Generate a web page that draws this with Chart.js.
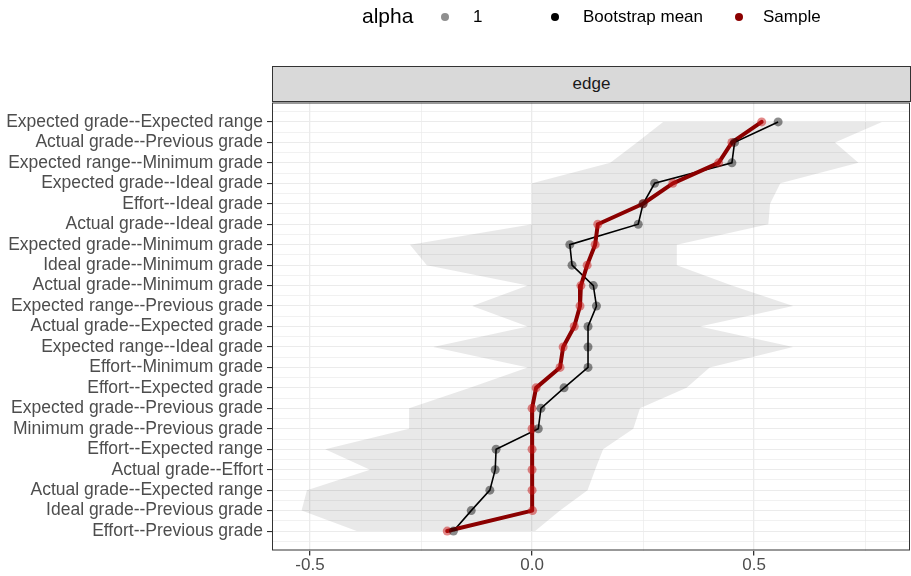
<!DOCTYPE html>
<html>
<head>
<meta charset="utf-8">
<script src="https://cdn.jsdelivr.net/npm/chart.js@4"></script>
<style>
  body { margin: 0; background: #fff; font-family: "Liberation Sans", Arial, sans-serif; }
  #wrap { position: relative; width: 911px; height: 576px; }
  #chart { position: absolute; left: 0; top: 0; }
  .lg { position: absolute; color: #000; white-space: nowrap; }
  .dot { position: absolute; width: 8px; height: 8px; border-radius: 50%; }
  #strip { position: absolute; left: 272px; top: 66px; width: 639px; height: 36px; box-sizing: border-box;
           background: #d9d9d9; border: 1px solid #333; color: #1a1a1a; font-size: 17px;
           text-align: center; line-height: 34px; }
</style>
</head>
<body>
<div id="wrap">
  <canvas id="chart" width="911" height="576"></canvas>
  <!-- legend, gg-style -->
  <span class="lg" style="left:362px; top:4px; font-size:21px;">alpha</span>
  <span class="dot" style="left:441px; top:13px; background:#8f8f8f;"></span>
  <span class="lg" style="left:473px; top:7px; font-size:17px;">1</span>
  <span class="dot" style="left:551px; top:13px; background:#000;"></span>
  <span class="lg" style="left:583px; top:7px; font-size:17px;">Bootstrap mean</span>
  <span class="dot" style="left:735px; top:13px; background:#8b0000;"></span>
  <span class="lg" style="left:763px; top:7px; font-size:17px;">Sample</span>
  <div id="strip">edge</div>
</div>
<script>
// kategori (dari atas ke bawah)
const categories = [
  'Expected grade--Expected range', 'Actual grade--Previous grade', 'Expected range--Minimum grade',
  'Expected grade--Ideal grade', 'Effort--Ideal grade', 'Actual grade--Ideal grade',
  'Expected grade--Minimum grade', 'Ideal grade--Minimum grade', 'Actual grade--Minimum grade',
  'Expected range--Previous grade', 'Actual grade--Expected grade', 'Expected range--Ideal grade',
  'Effort--Minimum grade', 'Effort--Expected grade', 'Expected grade--Previous grade',
  'Minimum grade--Previous grade', 'Effort--Expected range', 'Actual grade--Effort',
  'Actual grade--Expected range', 'Ideal grade--Previous grade', 'Effort--Previous grade'
];
const sampleValues = [0.517, 0.450, 0.420, 0.317, 0.250, 0.148, 0.142, 0.124, 0.110, 0.108, 0.095,
                      0.070, 0.063, 0.009, 0.0, 0.0, 0.0, 0.0, 0.0, 0.001, -0.191];
const bootstrapMean = [0.554, 0.456, 0.450, 0.276, 0.250, 0.239, 0.085, 0.090, 0.138, 0.145, 0.126,
                       0.126, 0.126, 0.072, 0.020, 0.014, -0.081, -0.083, -0.095, -0.137, -0.177];
// pita interval bootstrap
const bandLower = [0.295, 0.236, 0.176, 0.0, 0.0, 0.0, -0.275, -0.237, -0.01, -0.135, -0.01,
                   -0.223, -0.01, -0.14, -0.277, -0.277, -0.466, -0.365, -0.507, -0.519, -0.395];
const bandUpper = [0.788, 0.682, 0.735, 0.559, 0.536, 0.532, 0.326, 0.326, 0.45, 0.588, 0.378,
                   0.588, 0.40, 0.348, 0.243, 0.228, 0.16, 0.142, 0.125, 0.063, 0.007];
const xMajorTicks = [-0.5, 0, 0.5];
const xTickLabels = ['-0.5', '0.0', '0.5'];
const xMinorTicks = [-0.25, 0.25, 0.75];

const toPts = arr => arr.map((v, i) => ({ x: v, y: i }));
const bandShape = toPts(bandLower).concat(toPts(bandUpper).reverse());

const isMajorX = v => xMajorTicks.some(m => Math.abs(m - v) < 1e-9);

// bingkai panel (gaya theme_bw)
const panelBorder = {
  id: 'panelBorder',
  afterDraw(chart) {
    const { ctx, chartArea: a } = chart;
    ctx.save();
    ctx.strokeStyle = '#333';
    ctx.lineWidth = 1;
    ctx.strokeRect(a.left + 0.5, a.top + 0.5, a.right - a.left - 1, a.bottom - a.top - 1);
    ctx.restore();
  }
};

new Chart(document.getElementById('chart'), {
  type: 'scatter',
  data: {
    datasets: [
      { data: bandShape, showLine: true, fill: 'shape', backgroundColor: 'rgba(0,0,0,0.085)',
        borderWidth: 0, pointRadius: 0, tension: 0, order: 5 },
      { data: toPts(bootstrapMean), showLine: true, borderColor: '#000', borderWidth: 1.6,
        pointRadius: 0, fill: false, order: 4 },
      { data: toPts(sampleValues), showLine: true, borderColor: '#8b0000', borderWidth: 4,
        pointRadius: 0, fill: false, order: 3, borderJoinStyle: 'round', borderCapStyle: 'round' },
      { data: toPts(sampleValues), pointRadius: 4.5, pointBackgroundColor: 'rgba(200,20,20,0.5)',
        pointBorderWidth: 0, order: 2 },
      { data: toPts(bootstrapMean), pointRadius: 4.5, pointBackgroundColor: 'rgba(0,0,0,0.45)',
        pointBorderWidth: 0, order: 1 }
    ]
  },
  options: {
    responsive: false,
    animation: false,
    layout: { autoPadding: false, padding: { top: 102.5, right: 1, left: 0, bottom: 0 } },
    plugins: { legend: { display: false }, tooltip: { enabled: false } },
    scales: {
      x: {
        type: 'linear', min: -0.5856, max: 0.851,
        afterBuildTicks: s => { s.ticks = xMajorTicks.concat(xMinorTicks).sort((a, b) => a - b).map(v => ({ value: v })); },
        afterFit: s => { s.height = 25.5; s.paddingLeft = 0; s.paddingRight = 0; },
        border: { display: false },
        grid: {
          color: '#ebebeb',
          lineWidth: c => isMajorX(c.tick.value) ? 1.3 : 0.7,
          tickColor: c => isMajorX(c.tick.value) ? '#333' : 'rgba(0,0,0,0)',
          tickLength: 5
        },
        ticks: {
          autoSkip: false, maxRotation: 0, padding: 0, color: '#4d4d4d',
          font: { size: 17, family: '"Liberation Sans", Arial, sans-serif' },
          callback: v => { const i = xMajorTicks.findIndex(m => Math.abs(m - v) < 1e-9); return i >= 0 ? xTickLabels[i] : ''; }
        }
      },
      y: {
        type: 'linear', reverse: true, min: -0.95, max: 20.95,
        afterBuildTicks: s => { const t = []; for (let i = -1; i <= 41; i++) t.push({ value: i * 0.5 }); s.ticks = t; },
        afterFit: s => { s.width = 272; s.paddingTop = 0; s.paddingBottom = 0; },
        border: { display: false },
        grid: {
          color: '#ebebeb',
          lineWidth: c => Number.isInteger(c.tick.value) ? 1.1 : 0.7,
          tickColor: c => Number.isInteger(c.tick.value) ? '#333' : 'rgba(0,0,0,0)',
          tickLength: 5
        },
        ticks: {
          autoSkip: false, padding: 4, color: '#4d4d4d',
          font: { size: 17.5, family: '"Liberation Sans", Arial, sans-serif' },
          callback: v => Number.isInteger(v) && categories[v] !== undefined ? categories[v] : ''
        }
      }
    }
  },
  plugins: [panelBorder]
});
</script>
</body>
</html>
